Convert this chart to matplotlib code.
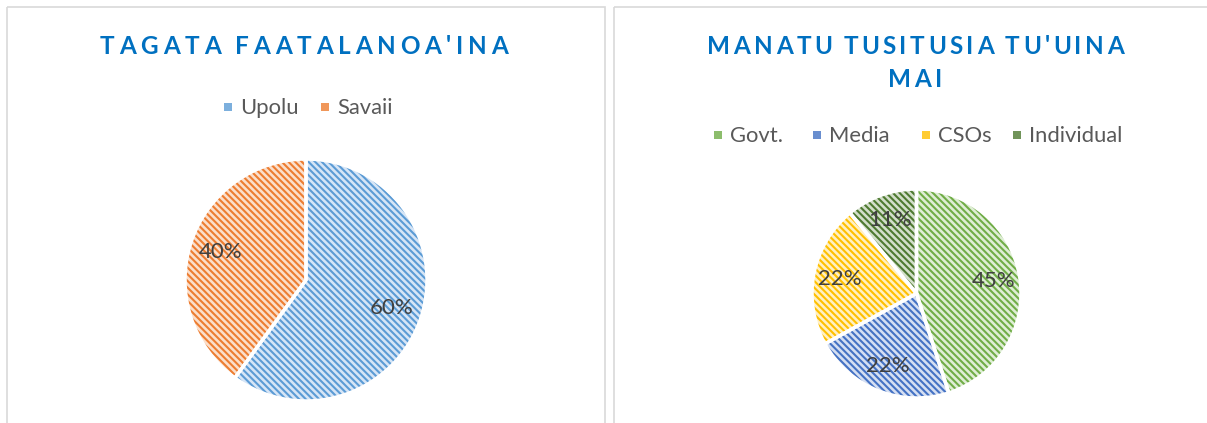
import matplotlib
matplotlib.use("Agg")
import matplotlib.pyplot as plt
from matplotlib.patches import Rectangle

# ---------------- data ----------------
title_left = "TAGATA FAATALANOA'INA"
labels_left = ["Upolu", "Savaii"]
values_left = [60, 40]

title_right_lines = ["MANATU TUSITUSIA TU'UINA", "MAI"]
labels_right = ["Govt.", "Media", "CSOs", "Individual"]
values_right = [45, 22, 22, 11]

# ---------------- styles ----------------
stripe_left = ["#5b9bd5", "#ed7d31"]
fill_left = ["#d6e5f6", "#fbdfcb"]
stripe_right = ["#70ad47", "#4472c4", "#ffc000", "#4e7a31"]
fill_right = ["#dfeed5", "#d5dff2", "#fff0c2", "#d3dfca"]
HATCH = "\\\\\\\\\\"
TITLE_COLOR = "#0070c0"
LEG_COLOR = "#595959"
LBL_COLOR = "#404040"
FONT = ["Lato", "DejaVu Sans"]

plt.rcParams["hatch.linewidth"] = 1.5
plt.rcParams["font.family"] = FONT

W, H = 1207, 423
fig = plt.figure(figsize=(W / 100, H / 100), dpi=100)
fig.patch.set_facecolor("white")

# background axes in pixel coordinates (y downward)
bg = fig.add_axes([0, 0, 1, 1])
bg.set_xlim(0, W)
bg.set_ylim(H, 0)
bg.axis("off")

# panel borders
for x0, x1 in [(6.7, 604.5), (613.5, 1240)]:
    bg.add_patch(Rectangle((x0, 7.3), x1 - x0, 500, fill=False,
                           edgecolor="#d9d9d9", linewidth=1.2))

renderer = fig.canvas.get_renderer()


def tracked_text(s, cx, baseline, target_width, size, **kw):
    texts = []
    for ch in s:
        t = bg.text(0, baseline, ch, ha="left", va="baseline",
                    fontsize=size, **kw)
        texts.append(t)
    widths = []
    for ch, t in zip(s, texts):
        if ch == " ":
            widths.append(size * 100 / 72 * 0.18)
        else:
            widths.append(t.get_window_extent(renderer=renderer).width)
    n = len(s)
    track = (target_width - sum(widths)) / (n - 1) if n > 1 else 0
    total = sum(widths) + track * (n - 1)
    x = cx - total / 2
    for w, t in zip(widths, texts):
        t.set_x(x)
        x += w + track


# titles
TSIZE = 17.5
tracked_text(title_left, 304, 53.5, 409, TSIZE, color=TITLE_COLOR,
             fontweight="bold")
tracked_text(title_right_lines[0], 915.5, 53.5, 417, TSIZE,
             color=TITLE_COLOR, fontweight="bold")
tracked_text(title_right_lines[1], 915, 87, 54, TSIZE, color=TITLE_COLOR,
             fontweight="bold")


# legends (manual entries)
def legend_entries(labels, fills, stripes, marker_x, baseline, msize=8):
    for lab, fc, sc, mx in zip(labels, fills, stripes, marker_x):
        bg.add_patch(Rectangle((mx, baseline - 11), msize, msize,
                               facecolor=sc, edgecolor="none", alpha=0.8))
        bg.text(mx + 16, baseline, lab, ha="left", va="baseline",
                fontsize=15.8, color=LEG_COLOR)


legend_entries(labels_left, fill_left, stripe_left, [224, 321], 114)
legend_entries(labels_right, fill_right, stripe_right,
               [714, 813, 922, 1013], 142)


# pies
def draw_pie(values, fills, stripes, cx, cy, r, pctd):
    ax = fig.add_axes([(cx - r) / W, (H - cy - r) / H, 2 * r / W, 2 * r / H])
    wedges, _, autotexts = ax.pie(
        values, colors=fills, startangle=90, counterclock=False,
        autopct="%1.0f%%", pctdistance=pctd,
        wedgeprops=dict(linewidth=0, hatch=HATCH),
        textprops=dict(color=LBL_COLOR, fontsize=16))
    for w, sc in zip(wedges, stripes):
        w.set_edgecolor(sc)
        w.set_linewidth(0)
    ax.pie(values, startangle=90, counterclock=False,
           colors=["none"] * len(values),
           wedgeprops=dict(edgecolor="white", linewidth=2.5))
    for t in autotexts:
        t.set_zorder(10)
    ax.set_xlim(-1, 1)
    ax.set_ylim(-1, 1)
    ax.set_aspect("equal")
    ax.axis("off")
    return ax


draw_pie(values_left, fill_left, stripe_left, 306, 280, 121, 0.74)
draw_pie(values_right, fill_right, stripe_right, 916.5, 293.5, 104.5, 0.75)

fig.savefig("out.png", dpi=100, facecolor="white")
